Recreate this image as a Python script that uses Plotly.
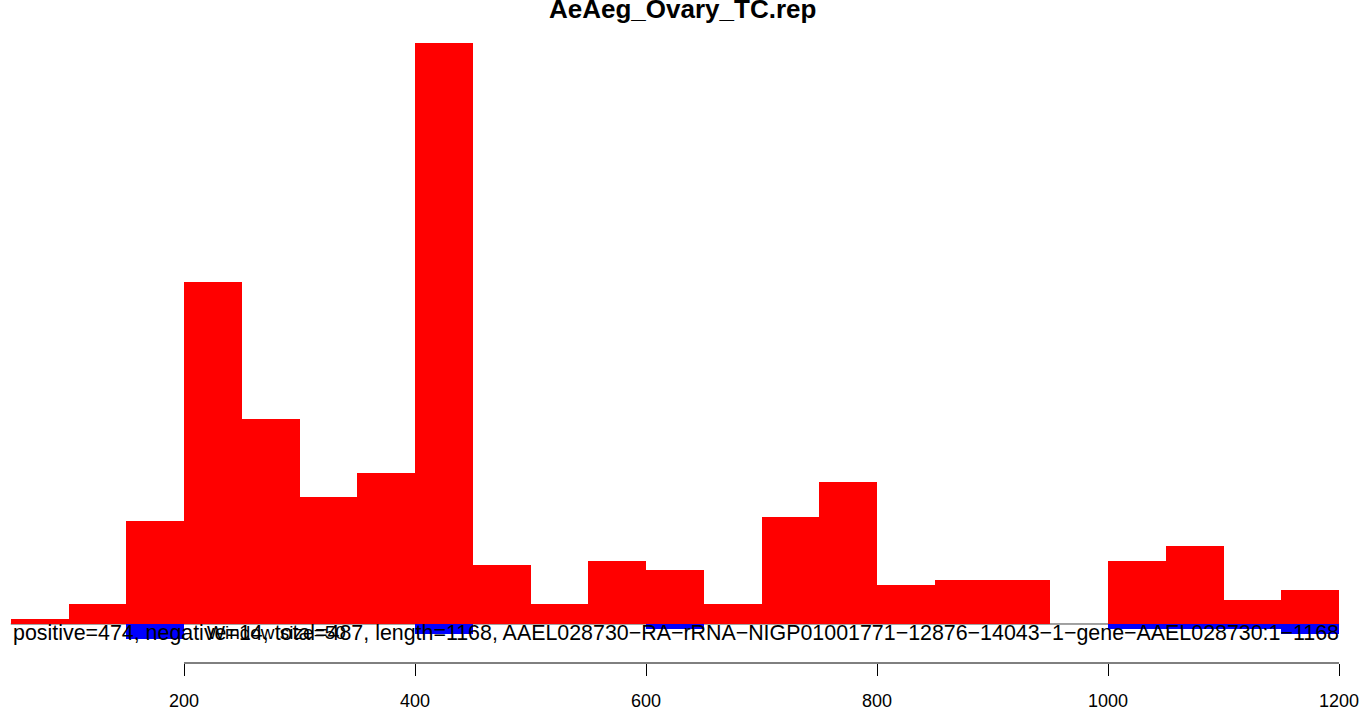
import plotly.graph_objects as go

# window start positions (window size = 50)
bin_starts = [50, 100, 150, 200, 250, 300, 350, 400, 450, 500, 550, 600,
              650, 700, 750, 800, 850, 900, 950, 1000, 1050, 1100, 1150]
positive = [1, 4, 21, 70, 42, 26, 31, 119, 12, 4, 13, 11,
            4, 22, 29, 8, 9, 9, 0, 13, 16, 5, 7]
negative = [0, 0, 3, 0, 0, 0, 0, 2, 0, 0, 0, 1,
            0, 0, 0, 0, 0, 0, 0, 1, 1, 1, 2]
tick_vals = [200, 400, 600, 800, 1000, 1200]

title = "AeAeg_Ovary_TC.rep"
info = ("positive=474, negative=14, total=487, length=1168, "
        "AAEL028730\u2212RA\u2212rRNA\u2212NIGP01001771\u221212876\u221214043\u22121\u2212gene\u2212AAEL028730:1\u22121168")
window_txt = "Window size=50"
win = 50

centers = [s + win / 2 for s in bin_starts]

fig = go.Figure()

fig.add_trace(go.Bar(
    x=centers, y=positive, width=win,
    marker=dict(color="#ff0000", line=dict(width=0)),
    showlegend=False, hoverinfo="x+y"
))
fig.add_trace(go.Bar(
    x=centers, y=[-v for v in negative], width=win,
    marker=dict(color="#0000ff", line=dict(width=0)),
    showlegend=False, hoverinfo="x+y"
))

# zero line under the bars
fig.add_shape(type="line", x0=bin_starts[0], x1=bin_starts[-1] + win, y0=0, y1=0,
              xref="x", yref="y", line=dict(color="#444444", width=1), layer="below")
# R style axis line, first tick to last tick
fig.add_shape(type="line", x0=tick_vals[0], x1=tick_vals[-1], y0=0, y1=0,
              xref="x", yref="paper", line=dict(color="black", width=1))

fig.add_annotation(x=bin_starts[0], y=-1.8, xref="x", yref="y", text=info,
                   showarrow=False, xanchor="left", yanchor="middle",
                   font=dict(family="Liberation Sans, Arial", size=21.4, color="black"))
fig.add_annotation(x=218, y=-1.8, xref="x", yref="y", text=window_txt,
                   showarrow=False, xanchor="left", yanchor="middle",
                   font=dict(family="Liberation Sans, Arial", size=19, color="black"))
fig.add_annotation(x=0.5, y=1, xref="paper", yref="paper", text="<b>" + title + "</b>",
                   showarrow=False, xanchor="center", yanchor="middle", yshift=-9,
                   font=dict(family="Liberation Sans, Arial", size=26, color="black"))

fig.update_layout(
    width=1364, height=712,
    margin=dict(l=0, r=0, t=0, b=49),
    plot_bgcolor="white", paper_bgcolor="white",
    barmode="overlay", bargap=0,
    xaxis=dict(range=[40.69, 1221.6], tickvals=tick_vals, ticks="outside", ticklen=12,
               tickwidth=1, tickcolor="black", showgrid=False, zeroline=False,
               showline=False, ticklabelstandoff=9,
               tickfont=dict(family="Liberation Sans, Arial", size=18, color="black")),
    yaxis=dict(range=[-7.99, 127.8], visible=False, showgrid=False, zeroline=False),
)

# drop the default 8px page margin so the figure sits at the window corner
fig.write_html("out.html", config={"displayModeBar": False},
               post_script="document.body.style.margin='0';")
